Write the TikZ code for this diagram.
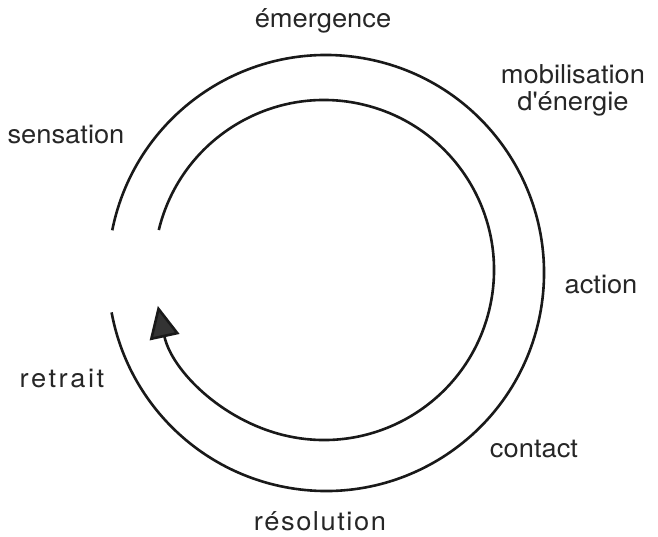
\documentclass[tikz,border=0pt]{standalone}
\usepackage{fontspec}
\setmainfont{TeX Gyre Heros}[FakeStretch=1.05]
\usepackage{tikz}
\usetikzlibrary{arrows.meta}

\begin{document}
\begin{tikzpicture}[
  x=1pt, y=1pt,
  stage/.style={font=\fontsize{26}{27}\selectfont, text=black!85, inner sep=0pt, anchor=base},
  cycle/.style={line width=2.6pt, draw=black!90},
]
  \useasboundingbox (0,0) rectangle (658,-536);
  \coordinate (outerc) at (326,-273);
  \coordinate (innerc) at (324,-270);

  % the two turns of the cycle
  \draw[cycle] (outerc) ++(168.7:218) arc[start angle=168.7, end angle=-169.6, radius=218];
  \draw[cycle, -{Triangle[length=32pt, width=30pt, fill=black!80]}]
    (innerc) ++(166.4:170) arc[start angle=166.4, end angle=-167.8, radius=170];

  \node[stage] (emergence) at (323,-27) {émergence};
  \node[stage, align=center] (mobilisation) at (573,-110) {mobilisation\\d\textquotesingle énergie};
  \node[stage] (sensation) at (66,-143) {sensation};
  \node[stage] (action) at (601,-293) {action};
  \node[stage, font=\fontsize{26}{27}\selectfont\addfontfeature{LetterSpace=10}] (retrait) at (62,-387) {retrait};
  \node[stage] (contact) at (534,-457) {contact};
  \node[stage, font=\fontsize{26}{27}\selectfont\addfontfeature{LetterSpace=6}] (resolution) at (320,-530) {résolution};
\end{tikzpicture}
\end{document}
